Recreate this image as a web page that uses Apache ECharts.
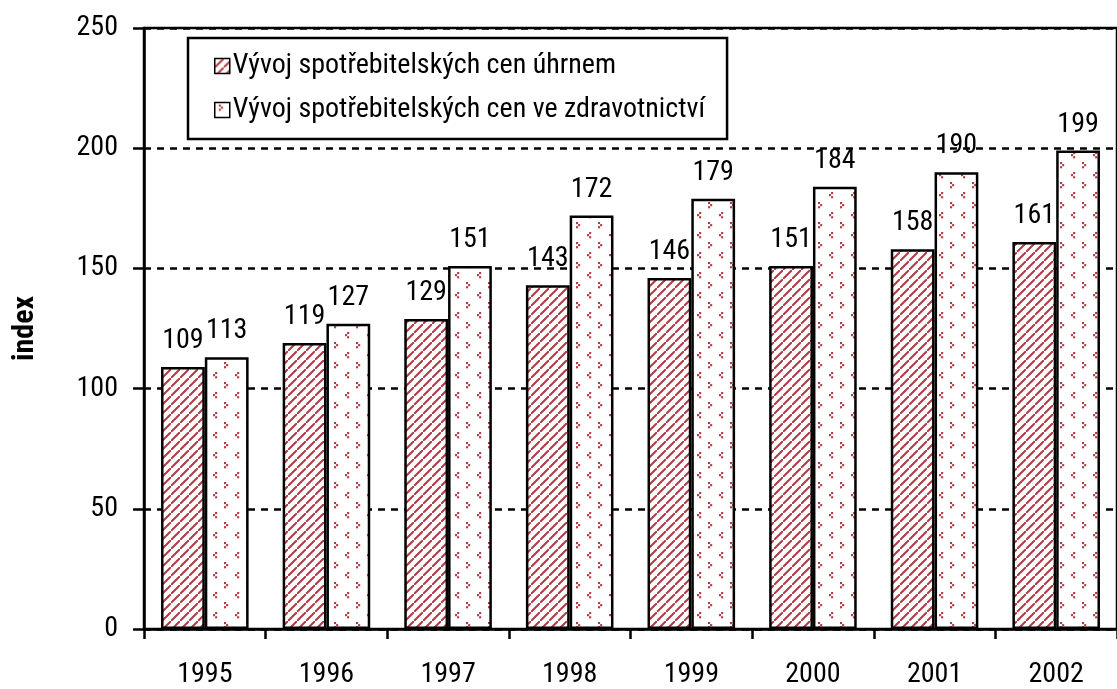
<!DOCTYPE html>
<html>
<head>
<meta charset="utf-8">
<script src="https://cdn.jsdelivr.net/npm/echarts@6/dist/echarts.min.js"></script>
<style>
html,body{margin:0;padding:0;background:#fff;}
#chart{width:1117px;height:689px;}
</style>
</head>
<body>
<div id="chart"></div>
<script>
const years = ['1995','1996','1997','1998','1999','2000','2001','2002'];
const seriesNames = ['Vývoj spotřebitelských cen úhrnem','Vývoj spotřebitelských cen ve zdravotnictví'];
const cpiTotal = [109,119,129,143,146,151,158,161];
const cpiHealth = [113,127,151,172,179,184,190,199];
const yTicks = {min:0, max:250, interval:50};

const NARROW = "'Liberation Sans Narrow','Arial Narrow','Roboto Condensed','Liberation Sans',Arial,sans-serif";
const RED = '#b23a44';

function hatchPattern(){
  const s = 9;
  const c = document.createElement('canvas');
  c.width = s; c.height = s;
  const g = c.getContext('2d');
  g.fillStyle = '#fff'; g.fillRect(0,0,s,s);
  g.strokeStyle = RED; g.lineWidth = 2;
  g.beginPath();
  g.moveTo(-1,s+1); g.lineTo(s+1,-1);
  g.moveTo(-s-1,1); g.lineTo(1,-s-1);
  g.moveTo(s-1,2*s+1); g.lineTo(2*s+1,s-1);
  g.stroke();
  return c;
}
function dotPattern(){
  const c = document.createElement('canvas');
  c.width = 22; c.height = 20;
  const g = c.getContext('2d');
  g.fillStyle = '#fff'; g.fillRect(0,0,22,20);
  g.fillStyle = RED;
  const d = 2.1;
  function gt(x,y){ g.fillRect(x,y,d,d); g.fillRect(x+d,y+d,d,d); g.fillRect(x,y+2*d,d,d); }
  function lt(x,y){ g.fillRect(x+d,y,d,d); g.fillRect(x,y+d,d,d); g.fillRect(x+d,y+2*d,d,d); }
  gt(4,2);
  lt(15,12);
  return c;
}
const pat1 = {image: hatchPattern(), repeat: 'repeat'};
const pat2 = {image: dotPattern(), repeat: 'repeat'};

const chart = echarts.init(document.getElementById('chart'));
const labelStyle = {show:true, position:'top', distance:12, fontFamily:NARROW, fontSize:28, color:'#000'};
chart.setOption({
  animation:false,
  grid:{left:144, top:28, right:-12, bottom:57, show:true, borderColor:'#000', borderWidth:2.5, backgroundColor:'transparent'},
  legend:{
    orient:'vertical', left:188, top:38,
    padding:[14,22,15,26], itemGap:16,
    borderColor:'#000', borderWidth:2.5,
    icon:'rect', itemWidth:15, itemHeight:15,
    itemStyle:{borderColor:'#000', borderWidth:1.5},
    textStyle:{fontFamily:NARROW, fontSize:28, color:'#000', padding:[0,0,0,-2]},
    data:seriesNames
  },
  xAxis:{
    type:'category', data:years,
    axisLine:{lineStyle:{color:'#000', width:2.5}},
    axisTick:{show:true, length:10, lineStyle:{color:'#000', width:2.5}, alignWithLabel:false},
    axisLabel:{color:'#000', fontFamily:NARROW, fontSize:28, margin:32},
    splitLine:{show:false}
  },
  yAxis:{
    type:'value', min:yTicks.min, max:yTicks.max, interval:yTicks.interval,
    name:'index', nameLocation:'middle', nameGap:104, nameRotate:90,
    nameTextStyle:{fontFamily:NARROW, fontWeight:'bold', fontSize:30, color:'#000'},
    axisLine:{show:true, lineStyle:{color:'#000', width:2.5}},
    axisTick:{show:true, length:11, lineStyle:{color:'#000', width:2.5}},
    axisLabel:{color:'#000', fontFamily:NARROW, fontSize:28, margin:26},
    splitLine:{show:true, lineStyle:{color:'#000', width:2.5, type:[7,6]}}
  },
  series:[
    {name:seriesNames[0], type:'bar', data:cpiTotal, barGap:'0%', barCategoryGap:'28%',
     itemStyle:{color:pat1, borderColor:'#000', borderWidth:2.5}, label:labelStyle},
    {name:seriesNames[1], type:'bar', data:cpiHealth, barGap:'0%', barCategoryGap:'28%',
     itemStyle:{color:pat2, borderColor:'#000', borderWidth:2.5}, label:labelStyle}
  ]
});
</script>
</body>
</html>
